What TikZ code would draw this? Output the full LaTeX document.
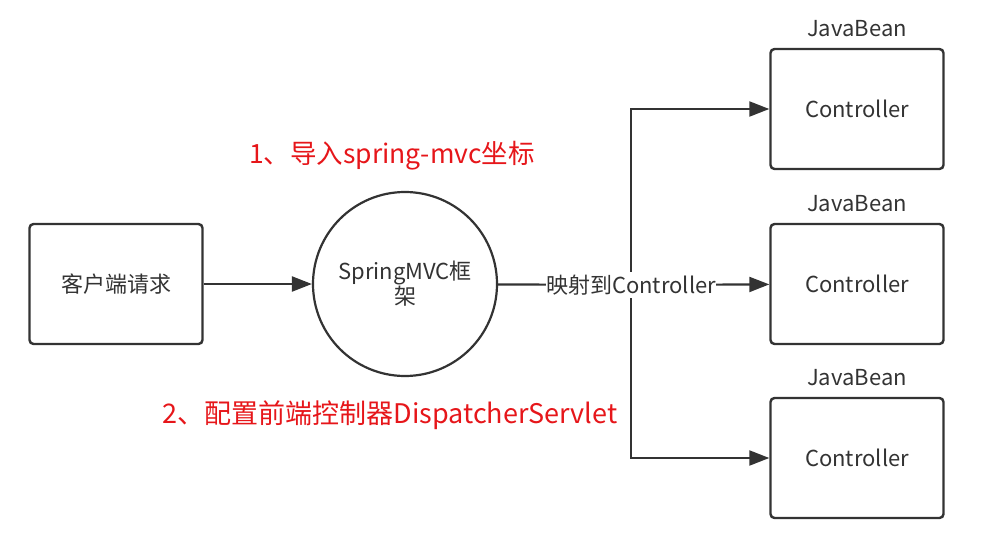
\documentclass[tikz,border=0pt]{standalone}
\usepackage{fontspec}
\setmainfont{Noto Sans CJK SC}
\usetikzlibrary{positioning,arrows.meta}
\definecolor{inkgray}{RGB}{51,51,51}
\definecolor{notered}{RGB}{230,22,26}
\begin{document}
\begin{tikzpicture}[x=1pt,y=-1pt]
\tikzstyle{every node}=[text=inkgray,font=\fontsize{22}{26}\selectfont];
\tikzstyle{box}=[draw=inkgray,line width=2.4pt,rounded corners=4pt,minimum width=173pt,minimum height=120pt];
\tikzstyle{conn}=[draw=inkgray,line width=2.2pt];
\tikzstyle{tip}=[-{Triangle[length=20pt,width=15pt]}];
\tikzstyle{note}=[text=notered];
\useasboundingbox (0,0) rectangle (999,552);
\node[box] (client) at (116,284) {客户端请求};
\node[draw=inkgray,line width=2.2pt,circle,minimum size=184pt,align=center,inner sep=0pt,
  font=\fontsize{22}{25}\selectfont] (mvc) at (405,284) {SpringMVC框\\架};
\node[inner xsep=0pt,inner ysep=3pt] (map) at (631,285) {映射到Controller};
\node[box] (ctl1) at (857,109) {Controller};
\node[box] (ctl2) at (857,284) {Controller};
\node[box] (ctl3) at (857,458) {Controller};
\node (bean1) [above=7pt of ctl1] {JavaBean};
\node (bean2) [above=7pt of ctl2] {JavaBean};
\node (bean3) [above=7pt of ctl3] {JavaBean};
\node[note,font=\fontsize{26.5}{30}\selectfont] (step1) at (392,156) {1、导入spring-mvc坐标};
\node[note,font=\fontsize{27}{32}\selectfont] (step2) at (390,415) {2、配置前端控制器DispatcherServlet};
\draw[conn,tip] (client) -- (mvc);
\draw[conn] (mvc) -- (map);
\draw[conn,tip] (map) -- (ctl2);
\draw[conn,tip] (map.north) |- (ctl1.west);
\draw[conn,tip] (map.south) |- (ctl3.west);
\end{tikzpicture}
\end{document}
